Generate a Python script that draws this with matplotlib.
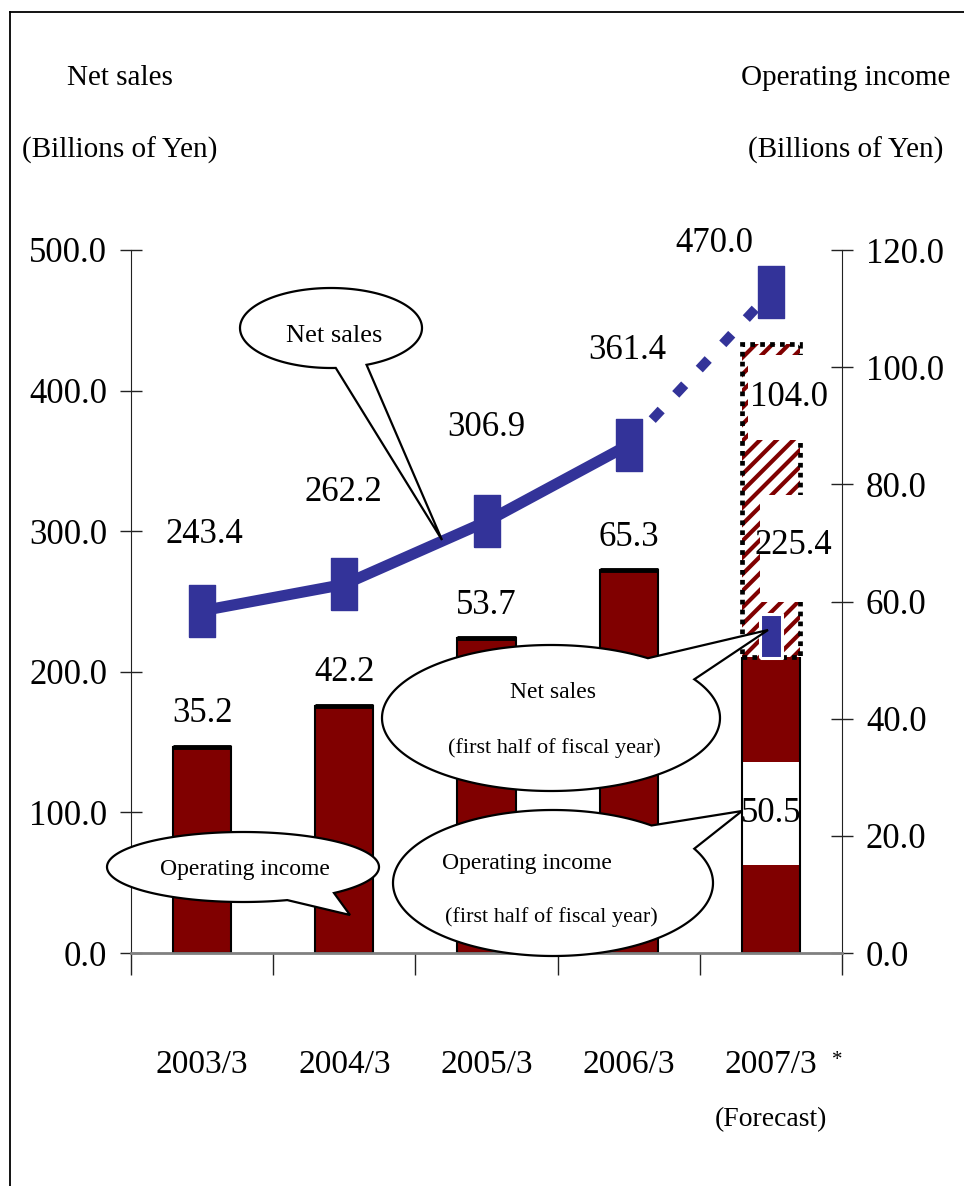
import numpy as np
import matplotlib
matplotlib.use("Agg")
import matplotlib.pyplot as plt
from matplotlib.patches import Rectangle, Polygon
from matplotlib.lines import Line2D
from matplotlib.transforms import IdentityTransform, blended_transform_factory

# ---------------- data ----------------
categories = ["2003/3", "2004/3", "2005/3", "2006/3", "2007/3"]
net_sales = [243.4, 262.2, 306.9, 361.4, 470.0]          # billions of yen
net_sales_first_half = 225.4                             # FY2007/3, first half
operating_income = [35.2, 42.2, 53.7, 65.3, 104.0]       # billions of yen
operating_income_first_half = 50.5                       # FY2007/3, first half
left_ticks = [0, 100, 200, 300, 400, 500]
right_ticks = [0, 20, 40, 60, 80, 100, 120]

# ---------------- style ----------------
W, H, DPI = 964, 1186, 100
plt.rcParams["font.family"] = ["Liberation Serif", "DejaVu Serif"]
plt.rcParams["hatch.linewidth"] = 3.0
LINE_C = "#333399"
BAR_C = "#800000"

fig = plt.figure(figsize=(W / DPI, H / DPI), dpi=DPI)
fig.patch.set_facecolor("white")


def frac_rect(x0, y0, x1, y1):
    """pixel box (top-left origin) -> figure-fraction rect"""
    return [x0 / W, 1 - y1 / H, (x1 - x0) / W, (y1 - y0) / H]


def disp(x, y):
    """pixel (top-left origin) -> display coords"""
    return (x, H - y)


ax = fig.add_axes(frac_rect(131, 250, 842, 953))
ax2 = ax.twinx()
ax.set_zorder(2)
ax2.set_zorder(1)
ax.patch.set_visible(False)

x = np.arange(len(categories))
ax.set_xlim(-0.5, len(categories) - 0.5)
ax.set_ylim(0, 500)
ax2.set_ylim(0, 120)

# ---------------- operating income bars (right axis) ----------------
w = 0.41
hist_x, hist_v = x[:-1], operating_income[:-1]
ax2.bar(hist_x, hist_v, width=w, color=BAR_C, edgecolor="black", linewidth=1.5, zorder=2)
ax2.hlines(hist_v, hist_x - w / 2, hist_x + w / 2, color="black", linewidth=3.5, zorder=3)
for xi, v in zip(hist_x, hist_v):
    ax2.annotate(f"{v:.1f}", (xi, v), xytext=(0, 24), textcoords="offset points",
                 ha="center", va="center", fontsize=25, zorder=4)

fx = x[-1]
h1 = operating_income_first_half
full = operating_income[-1]
# first half: solid
ax2.bar(fx, h1, width=w, color=BAR_C, linewidth=0, zorder=2)
# second half forecast: hatched
ax2.bar(fx, full - h1, bottom=h1, width=w, color="white", edgecolor=BAR_C,
        hatch="//", linewidth=0, zorder=2)
ax2.bar(fx, full - h1, bottom=h1, width=w, fill=False, edgecolor="black",
        linewidth=3.4, linestyle=(0, (1, 1.1)), zorder=3)

# label boxes on the forecast bar
ax2.add_patch(Rectangle((fx - w / 2, 15.0), w, 17.6, facecolor="white",
                        edgecolor="none", zorder=3))
ax2.vlines([fx - w / 2, fx + w / 2], 0, h1, color="black", linewidth=1.5, zorder=4)
ax2.hlines(0, fx - w / 2, fx + w / 2, color="black", linewidth=1.5, zorder=4)
ax2.text(fx, 23.8, f"{h1:.1f}", ha="center", va="center", fontsize=25, zorder=5)

ax2.add_patch(Rectangle((fx - 0.162, 87.6), 0.52, 14.5, facecolor="white",
                        edgecolor="none", zorder=4))
ax2.text(fx + 0.13, 94.8, f"{full:.1f}", ha="center", va="center", fontsize=25, zorder=5)

ax2.add_patch(Rectangle((fx - 0.077, 59.9), 0.51, 18.3, facecolor="white",
                        edgecolor="none", zorder=4))
ax2.text(fx + 0.16, 69.5, f"{net_sales_first_half:.1f}", ha="center", va="center",
         fontsize=25, zorder=5)

# ---------------- net sales line (left axis) ----------------
rect_marker = [(-0.5, -1), (0.5, -1), (0.5, 1), (-0.5, 1), (-0.5, -1)]
ax.plot(x[:-1], net_sales[:-1], color=LINE_C, linewidth=8, marker=rect_marker,
        markersize=37.5, solid_capstyle="butt", zorder=3)
ax.plot(x[-2:], net_sales[-2:], color=LINE_C, linewidth=7,
        linestyle=(0, (1.35, 2.2)), zorder=3)
ax.plot([x[-1]], [net_sales[-1]], color=LINE_C, marker=rect_marker,
        markersize=37.5, linestyle="none", zorder=4)
ax.plot([x[-1]], [net_sales_first_half], color=LINE_C, marker=rect_marker,
        markersize=32, markeredgecolor="white", markeredgewidth=2.2,
        linestyle="none", zorder=4)

ns_offsets = [(1.4, 55), (-0.7, 66), (0, 68), (-1.4, 68), (-41, 35)]
for xi, v, off in zip(x, net_sales, ns_offsets):
    ax.annotate(f"{v:.1f}", (xi, v), xytext=off, textcoords="offset points",
                ha="center", va="center", fontsize=25, zorder=5)

# ---------------- axes styling ----------------
for s in ("top", "right"):
    ax.spines[s].set_visible(False)
for s in ("top", "left", "bottom"):
    ax2.spines[s].set_visible(False)
ax.spines["left"].set_color("#222222")
ax2.spines["right"].set_color("#222222")
ax.spines["bottom"].set_color("#808080")
ax.spines["bottom"].set_linewidth(2)

ax.set_yticks(left_ticks)
ax.set_yticklabels([f"{t:.1f}" for t in left_ticks])
ax2.set_yticks(right_ticks)
ax2.set_yticklabels([f"{t:.1f}" for t in right_ticks])
ax.tick_params(axis="y", direction="inout", length=16.5, width=1, labelsize=25,
               pad=9, color="#222222")
ax2.tick_params(axis="y", direction="inout", length=16.5, width=1, labelsize=25,
                pad=9, color="#222222")

ax.set_xticks(np.arange(-0.5, len(categories), 1.0))
ax.set_xticklabels([])
ax.tick_params(axis="x", direction="out", length=16, width=1, color="#222222")

bt = blended_transform_factory(ax.transData, ax.transAxes)
for xi, c in zip(x, categories):
    ax.text(xi, -0.159, c, transform=bt, ha="center", va="center", fontsize=24)
ax.text(x[-1], -0.2375, "(Forecast)", transform=bt, ha="center", va="center", fontsize=20)
ax.text(x[-1] + 0.47, -0.153, "*", transform=bt, ha="center", va="center", fontsize=15)

# ---------------- titles ----------------
fig.text(120 / W, 1 - 78 / H, "Net sales", ha="center", va="center", fontsize=21)
fig.text(120 / W, 1 - 150 / H, "(Billions of Yen)", ha="center", va="center", fontsize=21)
fig.text(846 / W, 1 - 78 / H, "Operating income", ha="center", va="center", fontsize=21)
fig.text(846 / W, 1 - 150 / H, "(Billions of Yen)", ha="center", va="center", fontsize=21)

# ---------------- outer frame ----------------
fig.add_artist(Line2D([10 / W, 10 / W], [-0.01, 1 - 12 / H], color="black",
                      linewidth=1.3, transform=fig.transFigure))
fig.add_artist(Line2D([10 / W, 1.01], [1 - 12 / H, 1 - 12 / H], color="black",
                      linewidth=1.3, transform=fig.transFigure))


# ---------------- callouts ----------------
def bubble(cx, cy, a, b, t1, t2, tip, texts):
    th = np.radians(np.linspace(t2, t1 + 360, 240))
    pts = [disp(cx + a * np.cos(t), cy + b * np.sin(t)) for t in th]
    pts.append(disp(*tip))
    fig.add_artist(Polygon(pts, closed=True, facecolor="white", edgecolor="black",
                           linewidth=1.6, transform=IdentityTransform(), zorder=6))
    for tx, ty, s, fs in texts:
        fig.text(tx / W, 1 - ty / H, s, ha="center", va="center", fontsize=fs, zorder=7)


bubble(331, 328, 91, 40, 67, 87, (442, 540),
       [(334, 336, "Net sales", 19)])
bubble(551, 718, 169, 73, -55, -32, (768, 630),
       [(553, 692, "Net sales", 17), (554, 748, "(first half of fiscal year)", 16)])
bubble(243, 867, 136, 35, 48, 71, (350, 915),
       [(245, 870, "Operating income", 17)])
bubble(553, 883, 160, 73, -52, -28, (742, 811),
       [(527, 863, "Operating income", 17), (551, 917, "(first half of fiscal year)", 16)])

fig.savefig("out.png", dpi=DPI)
